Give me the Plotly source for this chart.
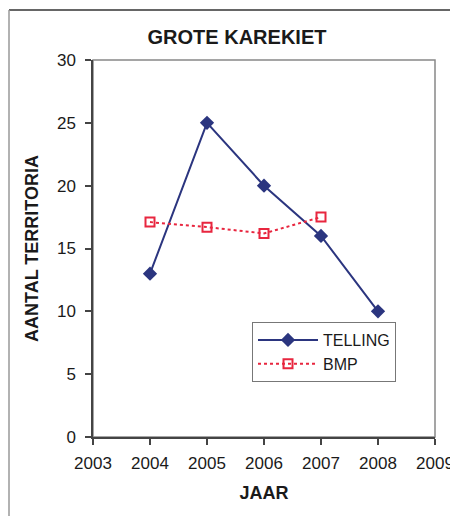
import plotly.graph_objects as go

# Grote karekiet: territory counts per year
years = [2004, 2005, 2006, 2007, 2008]
telling = [13, 25, 20, 16, 10]
bmp_years = [2004, 2005, 2006, 2007]
bmp = [17.1, 16.7, 16.2, 17.5]

x_ticks = [2003, 2004, 2005, 2006, 2007, 2008, 2009]
y_ticks = [0, 5, 10, 15, 20, 25, 30]

FONT = "Liberation Sans, Arial, sans-serif"
NAVY = "#2b357f"
RED = "#e8263f"

fig = go.Figure()
fig.add_trace(go.Scatter(
    x=years, y=telling, name="TELLING", mode="lines+markers",
    line=dict(color=NAVY, width=2),
    marker=dict(symbol="diamond", size=11, color=NAVY),
))
fig.add_trace(go.Scatter(
    x=bmp_years, y=bmp, name="BMP", mode="lines+markers",
    line=dict(color=RED, width=2, dash="dot"),
    marker=dict(symbol="square-open", size=9, color=RED, line=dict(width=2)),
))

fig.update_layout(
    width=450, height=516,
    margin=dict(l=93, r=15, t=60, b=79),
    paper_bgcolor="white", plot_bgcolor="white",
    font=dict(family=FONT, color="#1a1a1a"),
    title=dict(text="<b>GROTE KAREKIET</b>", x=237 / 450, xanchor="center",
               y=1 - 37 / 516, yanchor="middle", font=dict(size=20)),
    showlegend=True,
    legend=dict(x=(252 - 93) / 342, y=(437 - 322) / 377, xanchor="left", yanchor="top",
                bgcolor="white", bordercolor="#777", borderwidth=1,
                font=dict(size=16), itemwidth=60, tracegroupgap=4),
    shapes=[
        # plot-area border (top and right)
        dict(type="rect", xref="paper", yref="paper", x0=0, y0=0, x1=1, y1=1,
             line=dict(color="#888", width=1.5), layer="below"),
        # outer chart frame
        dict(type="line", xref="paper", yref="paper",
             x0=(9 - 93) / 342, x1=(450 - 93) / 342 + 0.01,
             y0=(437 - 10) / 377, y1=(437 - 10) / 377,
             line=dict(color="#333", width=1.5)),
        dict(type="line", xref="paper", yref="paper",
             x0=(9 - 93) / 342, x1=(9 - 93) / 342,
             y0=(437 - 10) / 377, y1=-0.3,
             line=dict(color="#999", width=1.5)),
    ],
)

fig.update_xaxes(
    range=[2003, 2009], tickvals=x_ticks, ticktext=[str(v) for v in x_ticks],
    showgrid=False, zeroline=False, automargin=False,
    showline=True, linecolor="#444", linewidth=1.5,
    ticks="outside", ticklen=6, tickcolor="#444", tickwidth=1.5,
    tickfont=dict(size=17), ticklabelstandoff=4, ticklabeloverflow="allow",
    title=dict(text="<b>JAAR</b>", font=dict(size=18), standoff=14),
)
fig.update_yaxes(
    range=[0, 30], tickvals=y_ticks,
    showgrid=False, zeroline=False, automargin=False,
    showline=True, linecolor="#444", linewidth=1.5,
    ticks="outside", ticklen=6, tickcolor="#444", tickwidth=1.5,
    tickfont=dict(size=17), ticklabelstandoff=6,
    title=dict(text="<b>AANTAL TERRITORIA</b>", font=dict(size=18), standoff=14),
)

fig.write_html("out.html")
